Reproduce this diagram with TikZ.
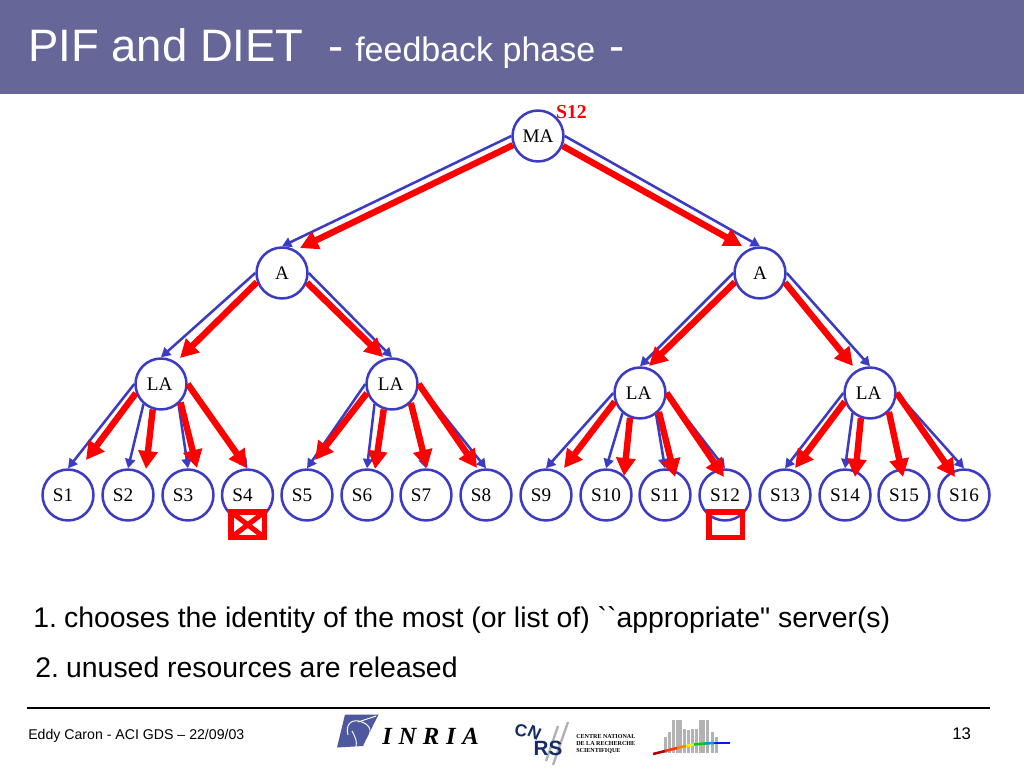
\documentclass[tikz,border=0pt]{standalone}
\usepackage{fontspec}
\usetikzlibrary{arrows.meta}
\newfontfamily\arialf{Liberation Sans}
\newfontfamily\timesf{Liberation Serif}
\definecolor{barcol}{RGB}{102,102,153}
\definecolor{netblue}{RGB}{59,59,196}
\definecolor{netred}{RGB}{255,0,0}
\definecolor{inriablue}{RGB}{78,88,158}
\definecolor{cnrsblue}{RGB}{20,45,105}
\definecolor{logogray}{RGB}{178,178,178}
\newcommand{\fs}[1]{\fontsize{#1}{#1}\selectfont}
\tikzset{
  netnode/.style={circle,draw=netblue,fill=white,line width=1.9pt,minimum size=38.2pt,inner sep=0pt,font=\timesf\fs{14.4pt},text=black},
  bluearrow/.style={draw=netblue,line width=1.9pt,-{Triangle[length=7pt,width=7.5pt]}},
  redarrow/.style={draw=netred,line width=4.8pt,-{Triangle[length=13.5pt,width=14pt]}},
  redbox/.style={draw=netred,line width=4.2pt},
  sans/.style={anchor=base west,inner sep=0pt,font=\arialf},
  cnrsletter/.style={inner sep=0pt,text=cnrsblue,font=\arialf\bfseries\fs{13pt}},
  cnrsline/.style={anchor=base west,inner sep=0pt,font=\timesf\bfseries\fs{4.55pt}},
}
\begin{document}
\begin{tikzpicture}[x=0.75pt,y=-0.75pt]
\useasboundingbox (0,0) rectangle (1024,768);
\fill[white] (0,0) rectangle (1024,768);
\fill[barcol] (0,0) rectangle (1024,93.5);
\node[sans,text=white,font=\arialf\fs{34.1pt}] (title) at (28,61) {PIF and DIET};
\node[sans,text=white,font=\arialf\fs{34.1pt}] (dasha) at (328,61) {-};
\node[sans,text=white,font=\arialf\fs{25.5pt}] (titleb) at (355,61) {feedback phase};
\node[sans,text=white,font=\arialf\fs{34.1pt}] (dashb) at (609,61) {-};
% tree nodes
\node[netnode] (MA) at (538,136) {MA};
\node[netnode] (A1) at (282,273) {A};
\node[netnode] (A2) at (760,273) {A};
\node[netnode] (LA1) at (161,384) {LA\kern2pt};
\node[netnode] (LA2) at (392,384) {LA\kern2pt};
\node[netnode] (LA3) at (640,393) {LA\kern2pt};
\node[netnode] (LA4) at (870,393) {LA\kern2pt};
\foreach \n/\x in {1/68,2/128,3/188,4/247.5,5/307,6/367,7/426,8/486,9/546}
  \node[netnode] (S\n) at (\x,495) {S\n\kern7.5pt};
\foreach \n/\x in {10/606,11/665,12/725,13/785,14/845,15/904,16/964}
  \node[netnode] (S\n) at (\x,495) {S\n};
\node[anchor=center,inner sep=0pt,text=netred,font=\timesf\bfseries\fs{14.8pt}] (winner) at (571.5,112) {S12};
% blue connectors
\foreach \a/\ang/\b in {MA/180/A1,MA/0/A2,A1/180/LA1,A1/0/LA2,A2/180/LA3,A2/0/LA4,
  LA1/180/S1,LA1/229/S2,LA1/311/S3,LA1/0/S4,
  LA2/180/S5,LA2/229/S6,LA2/311/S7,LA2/0/S8,
  LA3/180/S9,LA3/229/S10,LA3/307/S11,LA3/0/S12,
  LA4/180/S13,LA4/229/S14,LA4/311/S15,LA4/0/S16}
  \draw[bluearrow] (\a.\ang) -- (\b.north);
% red connectors
\foreach \i/\a/\ang/\x/\y in {1/MA/200/300/248,2/MA/338/742/246,
  3/A1/200/180/358,4/A1/339/383/357,5/A2/200/649/366,6/A2/339/853/366,
  7/LA1/200/86/460,8/LA1/252/146/469,9/LA1/317/197/468,10/LA1/0/247/468,
  11/LA2/200/315/460,12/LA2/252/375/469,13/LA2/315/427/468,14/LA2/0/477/468,
  15/LA3/199/564/468,16/LA3/248/624/476,17/LA3/315/675/477,18/LA3/0/724/477,
  19/LA4/199/795/468,20/LA4/250/855/477,21/LA4/315/903/477,22/LA4/0/955/477}
{ \coordinate (tip\i) at (\x,\y);
  \draw[redarrow] (\a.\ang) -- (tip\i); }
% red marks
\draw[redbox,fill=white] (230.8,512) rectangle (264.5,537.5);
\draw[draw=netred,line width=3.8pt] (231,512) -- (264.5,537.5) (264.5,512) -- (231,537.5);
\draw[redbox] (708.8,512) rectangle (742.5,537.5);
% text
\node[sans,font=\arialf\fs{21.3pt}] (line1) at (33,627) {1.\kern-2.5pt{} chooses the identity of the most (or list of) ``appropriate" server(s)};
\node[sans,font=\arialf\fs{21.3pt}] (line2) at (35,677) {2.\kern-2.5pt{} unused resources are released};
% footer
\draw[black,line width=1.5pt] (27,708) -- (990,708);
\node[sans,font=\arialf\fs{10.6pt}] (foot) at (28,739) {Eddy Caron - ACI GDS – 22/09/03};
\node[sans,font=\arialf\fs{12.6pt}] (page) at (952,739) {13};
% INRIA logo
\fill[inriablue] (345,714.5) -- (378.5,714.5) -- (363,746) -- (337,747.5) -- cycle;
\draw[white,line width=.7pt] (348,735) .. controls (345,724) and (352,718) .. (362,722) .. controls (372,726) and (372,733) .. (366,741);
\draw[white,line width=.7pt] (352,731) .. controls (356,738) and (357,742) .. (356,747);
\draw[white,line width=.7pt] (358,722) -- (376,716);
\node[anchor=base west,inner sep=0pt,font=\timesf\itshape\bfseries\fs{18.5pt}] (inria) at (382,744) {I\kern5pt N\kern5pt R\kern5pt I\kern5pt A};
% CNRS logo
\draw[logogray,line width=1.8pt] (568,722) -- (553,765) (558,726) -- (546,761);
\node[cnrsletter,rotate=-10] (cnrsC) at (521,730.5) {C};
\node[cnrsletter,rotate=-25] (cnrsN) at (534.5,733) {N};
\node[cnrsletter,font=\arialf\bfseries\fs{15.5pt}] (cnrsR) at (541,748.5) {R};
\node[cnrsletter,font=\arialf\bfseries\fs{15.5pt}] (cnrsS) at (555.5,748.5) {S};
\node[cnrsline] (cnrsa) at (576,738) {CENTRE NATIONAL};
\node[cnrsline] (cnrsb) at (576,745) {DE LA RECHERCHE};
\node[cnrsline] (cnrsc) at (576,752) {SCIENTIFIQUE};
% third logo
\foreach \x/\t in {665/737,669/732,673/720,677/720,680.5/720,684/729,688/730,692/729,696/729,700/720,703.5/720,707/720,712/732,716/737}
  \fill[logogray] (\x-1.5,\t) rectangle (\x+1.5,753);
\foreach \xa/\ya/\xb/\yb/\c in {653/754/665/751/red!70!black,665/751/677/748/red!80!yellow,677/748/686/746/orange,686/746/694/744.5/yellow,694/744.5/705/743.5/green!80!black,705/743.5/714/743/cyan!80!blue,714/743/730/743/blue!90!cyan}
  \draw[\c,line width=1.9pt] (\xa,\ya) -- (\xb,\yb);
\end{tikzpicture}
\end{document}
